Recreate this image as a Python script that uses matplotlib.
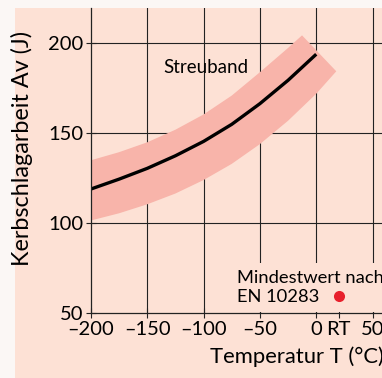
import numpy as np
import matplotlib.pyplot as plt
from matplotlib.patches import Rectangle

plt.rcParams['font.family'] = ['Lato', 'DejaVu Sans']

# mean curve of the scatter band
temp = [-200, -175, -150, -125, -100, -75, -50, -25, 0]
av_mean = [119, 124.5, 130.5, 137.5, 145.5, 155, 166.5, 179.5, 194]

# scatter band ("Streuband") edges, end is cut square
band_up_t = [-200, -175, -150, -125, -100, -75, -50, -25, -12.6]
band_up_av = [135, 139.5, 145, 152, 160.5, 171, 184, 197.5, 204.5]
band_lo_t = [-200, -175, -150, -125, -100, -75, -50, -25, 0, 17.8]
band_lo_av = [101.5, 105.5, 110.5, 116.5, 124, 133, 144, 157, 172, 184.5]

# minimum value at room temperature
rt_temp = 20
rt_av = 59.5

xticks = [-200, -150, -100, -50, 0, rt_temp, 50]
xticklabels = ['\u2013200', '\u2013150', '\u2013100', '\u201350', '0', 'RT', '50']
yticks = [50, 100, 150, 200]

peach = '#fde1d5'
band_col = '#f8b4aa'

fig = plt.figure(figsize=(3.82, 3.78), dpi=100, facecolor='#fbf7f5')
fig.patches.append(Rectangle((15 / 382, 0), 1, 1 - 7.5 / 378, transform=fig.transFigure,
                             facecolor=peach, edgecolor='none', zorder=-10))

ax = fig.add_axes([91 / 382, 65 / 378, 1 - 91 / 382, 305.5 / 378])
ax.set_facecolor(peach)
ax.set_xlim(-200, 58.4)
ax.set_ylim(50, 220)

poly_t = band_up_t + band_lo_t[::-1]
poly_av = band_up_av + band_lo_av[::-1]
ax.fill(poly_t, poly_av, color=band_col, lw=0, zorder=1)
ax.plot(temp, av_mean, color='black', lw=2.4, solid_capstyle='butt',
        solid_joinstyle='round', zorder=2)

ax.set_xticks(xticks)
ax.set_xticklabels(xticklabels)
ax.set_yticks(yticks)
ax.set_yticklabels([str(v) for v in yticks])
ax.tick_params(direction='inout', length=7, width=0.8, color='#222222', labelsize=14.5, pad=2)
ax.set_axisbelow(True)
for t in [-150, -100, -50, 0, 50]:
    ax.axvline(t, color='#222222', lw=0.8, zorder=0.6)
for v in [100, 150, 200]:
    ax.axhline(v, color='#222222', lw=0.8, zorder=0.6)
for s in ['top', 'right']:
    ax.spines[s].set_visible(False)
for s in ['left', 'bottom']:
    ax.spines[s].set_color('#222222')
    ax.spines[s].set_linewidth(0.9)

ax.text(-136, 183.6, 'Streuband', fontsize=13.5, va='baseline', zorder=3)
ax.text(-70.3, 56.3, 'Mindestwert nach\nEN 10283', fontsize=13.2, va='baseline',
        linespacing=1.2, zorder=3,
        bbox=dict(facecolor=peach, edgecolor='none', pad=5))
ax.plot([rt_temp], [rt_av], 'o', color='#e8202c', ms=8, mec='none', zorder=4, clip_on=False)

ax.set_ylabel('Kerbschlagarbeit Av (J)', fontsize=16.8)
ax.yaxis.set_label_coords(-0.2, 0.54)
fig.text(210 / 382, 15 / 378, 'Temperatur T (\u00b0C)', fontsize=15.8, va='baseline')

fig.savefig('out.png', dpi=100, facecolor=fig.get_facecolor())
